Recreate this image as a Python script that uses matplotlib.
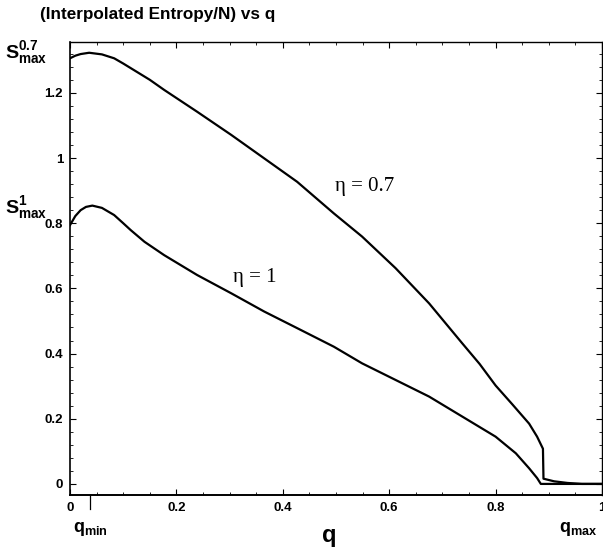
import matplotlib
matplotlib.use("Agg")
import matplotlib.pyplot as plt
import matplotlib.transforms as mtransforms
from matplotlib.ticker import MultipleLocator

plt.rcParams['font.family'] = ['Liberation Sans', 'DejaVu Sans']
plt.rcParams['mathtext.fontset'] = 'custom'
plt.rcParams['mathtext.rm'] = 'Liberation Sans'
plt.rcParams['mathtext.bf'] = 'Liberation Sans:bold'

# eta = 0.7 curve
q_07 = [0.0, 0.01, 0.02, 0.036, 0.06, 0.083, 0.10, 0.12, 0.15, 0.177, 0.239, 0.303, 0.365,
        0.427, 0.496, 0.549, 0.612, 0.675, 0.737, 0.770, 0.800, 0.831, 0.863, 0.878,
        0.889, 0.890, 0.91, 0.935, 0.962, 1.0]
s_07 = [1.306, 1.314, 1.319, 1.323, 1.318, 1.306, 1.290, 1.270, 1.240, 1.209, 1.142, 1.071, 0.999,
        0.927, 0.830, 0.759, 0.662, 0.554, 0.432, 0.368, 0.302, 0.245, 0.185, 0.145,
        0.108, 0.016, 0.008, 0.003, 0.0, 0.0]

# eta = 1 curve
q_1 = [0.0, 0.01, 0.02, 0.03, 0.042, 0.06, 0.083, 0.10, 0.114, 0.14, 0.177, 0.239, 0.303,
       0.365, 0.427, 0.496, 0.549, 0.612, 0.675, 0.737, 0.800, 0.838, 0.863,
       0.878, 0.885, 1.0]
s_1 = [0.794, 0.822, 0.840, 0.850, 0.854, 0.847, 0.825, 0.800, 0.779, 0.743, 0.702, 0.641, 0.585,
       0.529, 0.478, 0.421, 0.370, 0.319, 0.268, 0.207, 0.145, 0.094, 0.048,
       0.018, 0.0, 0.0]

x_ticks = [0, 0.2, 0.4, 0.6, 0.8, 1.0]
x_tick_labels = ["0", "0.2", "0.4", "0.6", "0.8", "1"]
y_ticks = [0, 0.2, 0.4, 0.6, 0.8, 1.0, 1.2]
y_tick_labels = ["0", "0.2", "0.4", "0.6", "0.8", "1", "1.2"]

q_min = 0.038
q_max_label_x = 0.955
smax_07 = 1.323
smax_1 = 0.854

fig = plt.figure(figsize=(6.03, 5.51), dpi=100)
ax = fig.add_axes([70/603, 1 - 495/551, 532/603, (495 - 42)/551])

ax.plot(q_07, s_07, color='black', lw=1.6, solid_joinstyle='round')
ax.plot(q_1, s_1, color='black', lw=1.6, solid_joinstyle='round')

ax.set_xlim(0, 1.0)
ax.set_ylim(-0.034, 1.356)

ax.set_xticks(x_ticks)
ax.set_xticklabels(x_tick_labels, fontweight='bold', fontsize=9.5)
ax.set_yticks(y_ticks)
ax.set_yticklabels(y_tick_labels, fontweight='bold', fontsize=9.5)
ax.xaxis.set_minor_locator(MultipleLocator(0.05))
ax.yaxis.set_minor_locator(MultipleLocator(0.04))
ax.tick_params(which='both', direction='in', top=True, right=True)
ax.tick_params(which='major', length=4, width=0.8, pad=5)
ax.tick_params(which='minor', length=2, width=0.6)
for sp in ax.spines.values():
    sp.set_linewidth(1.0)
ax.spines['bottom'].set_linewidth(1.4)
ax.spines['left'].set_linewidth(1.2)

# q_min marker tick below axis
trans = mtransforms.blended_transform_factory(ax.transData, ax.transAxes)
ax.plot([q_min, q_min], [0.0, -0.032], color='black', lw=0.9, transform=trans, clip_on=False)

ax.text(q_min, -0.075, r"$\mathbf{q_{min}}$", transform=trans, ha='center', va='center', fontsize=13)
ax.text(q_max_label_x, -0.075, r"$\mathbf{q_{max}}$", transform=trans, ha='center', va='center', fontsize=13)
ax.text(0.487, -0.090, "q", transform=ax.transAxes, ha='center', va='center', fontsize=17, fontweight='bold')

# S_max labels on left
transy = mtransforms.blended_transform_factory(fig.transFigure, ax.transData)
ax.text(5/603, smax_07, r"$\mathbf{S_{max}^{0.7}}$", transform=transy, ha='left', va='center', fontsize=14)
ax.text(5/603, smax_1 - 0.005, r"$\mathbf{S_{max}^{1}}$", transform=transy, ha='left', va='center', fontsize=14)

# curve labels
ax.text(0.553, 0.912, "η = 0.7", fontsize=15, family=['Liberation Serif', 'DejaVu Serif'], ha='center', va='center')
ax.text(0.348, 0.632, "η = 1", fontsize=15, family=['Liberation Serif', 'DejaVu Serif'], ha='center', va='center')

fig.text(40/603, 1 - 14/551, "(Interpolated Entropy/N) vs q", fontsize=12.3, fontweight='bold', ha='left', va='center')

fig.savefig("out.png", dpi=100)
